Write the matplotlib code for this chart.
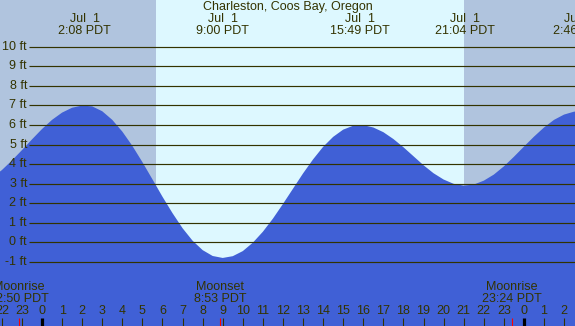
import numpy as np
import matplotlib
matplotlib.use("Agg")
import matplotlib.pyplot as plt

plt.rcParams['font.family'] = ['Liberation Sans', 'DejaVu Sans']

# ---- data ----
title = "Charleston, Coos Bay, Oregon"
hours = np.arange(-2.5, 27.01, 0.5)          # hours from midnight Jul 1 (PDT)
tide_ft = [3.30, 3.69, 4.18, 4.71, 5.26, 5.79, 6.26, 6.63, 6.88, 6.99,
           6.95, 6.70, 6.26, 5.66, 4.93, 4.10, 3.22, 2.33, 1.49, 0.72,
           0.08, -0.40, -0.70, -0.80, -0.71, -0.45, -0.02, 0.54, 1.21, 1.96,
           2.74, 3.52, 4.24, 4.88, 5.39, 5.76, 5.96, 5.99, 5.87, 5.63,
           5.28, 4.86, 4.40, 3.94, 3.53, 3.21, 2.99, 2.90, 2.95, 3.15,
           3.46, 3.88, 4.37, 4.89, 5.40, 5.87, 6.26, 6.53, 6.68, 6.69]
extreme_hours = [2.133, 9.0, 15.817, 21.067, 26.767]
extreme_dates = ["Jul  1", "Jul  1", "Jul  1", "Jul  1", "Jul  2"]
extreme_times = ["2:08 PDT", "9:00 PDT", "15:49 PDT", "21:04 PDT", "2:46 PDT"]
moon_hours = [-1.167, 8.883, 23.4]
moon_names = ["Moonrise", "Moonset", "Moonrise"]
moon_times = ["22:50 PDT", "8:53 PDT", "23:24 PDT"]
sunrise_h = 5.68
sunset_h = 21.0
grid_levels = list(range(-1, 11))
hour_ticks = list(range(-2, 27))

# ---- style ----
W, H = 575, 326
night_col = "#B0C4DE"
day_col = "#DDF8FF"
water_col = "#4060D6"
ink = "#333300"

x0_px, px_per_h = 42.0, 20.08
y0_px, px_per_ft = 242.3, 19.56

def hx(px):
    return (px - x0_px) / px_per_h

def fy(py):
    return (y0_px - py) / px_per_ft

fig = plt.figure(figsize=(W / 100, H / 100), dpi=100)
ax = fig.add_axes([0, 0, 1, 1])
ax.set_xlim(hx(0), hx(W))
ax.set_ylim(fy(H), fy(0))
ax.axis('off')
fig.patch.set_facecolor(day_col)

ax.axvspan(hx(-50), sunrise_h, color=night_col, lw=0, zorder=0)
ax.axvspan(sunset_h, hx(W + 50), color=night_col, lw=0, zorder=0)

ax.fill_between(hours, tide_ft, fy(H + 50), color=water_col, lw=0, zorder=1)

for lv in grid_levels:
    ax.plot([hx(29), hx(W + 5)], [lv, lv], color=ink, lw=0.85, zorder=3,
            solid_capstyle='butt')
    ax.text(hx(27), lv, f"{lv} ft", ha='right', va='center', fontsize=9,
            color=ink, zorder=4)

# bottom hour ticks
for h in hour_ticks:
    if h % 24 == 0:
        ax.plot([h, h], [fy(318), fy(H + 5)], color='black', lw=2.3, zorder=3,
                solid_capstyle='butt')
    else:
        ax.plot([h, h], [fy(318), fy(H + 5)], color=ink, lw=0.8, zorder=3,
                solid_capstyle='butt')
    ax.text(h, fy(311.5), str(h % 24), ha='center', va='center', fontsize=9,
            color=ink, zorder=4)

for mh, mn, mt in zip(moon_hours, moon_names, moon_times):
    ax.plot([mh, mh], [fy(318), fy(H + 5)], color='red', lw=0.8, zorder=3,
            solid_capstyle='butt')
    ax.text(mh, fy(287), mn, ha='center', va='center', fontsize=9, color=ink, zorder=4)
    ax.text(mh, fy(299.5), mt, ha='center', va='center', fontsize=9, color=ink, zorder=4)

for eh, ed, et in zip(extreme_hours, extreme_dates, extreme_times):
    ax.text(eh, fy(19), ed, ha='center', va='center', fontsize=9, color=ink, zorder=4)
    ax.text(eh, fy(31.5), et, ha='center', va='center', fontsize=9, color=ink, zorder=4)

ax.text(0.5 * (hx(0) + hx(W)), fy(7), title, ha='center', va='center',
        fontsize=9, color=ink, zorder=4)

fig.savefig("out.png", dpi=100, facecolor=fig.get_facecolor())
